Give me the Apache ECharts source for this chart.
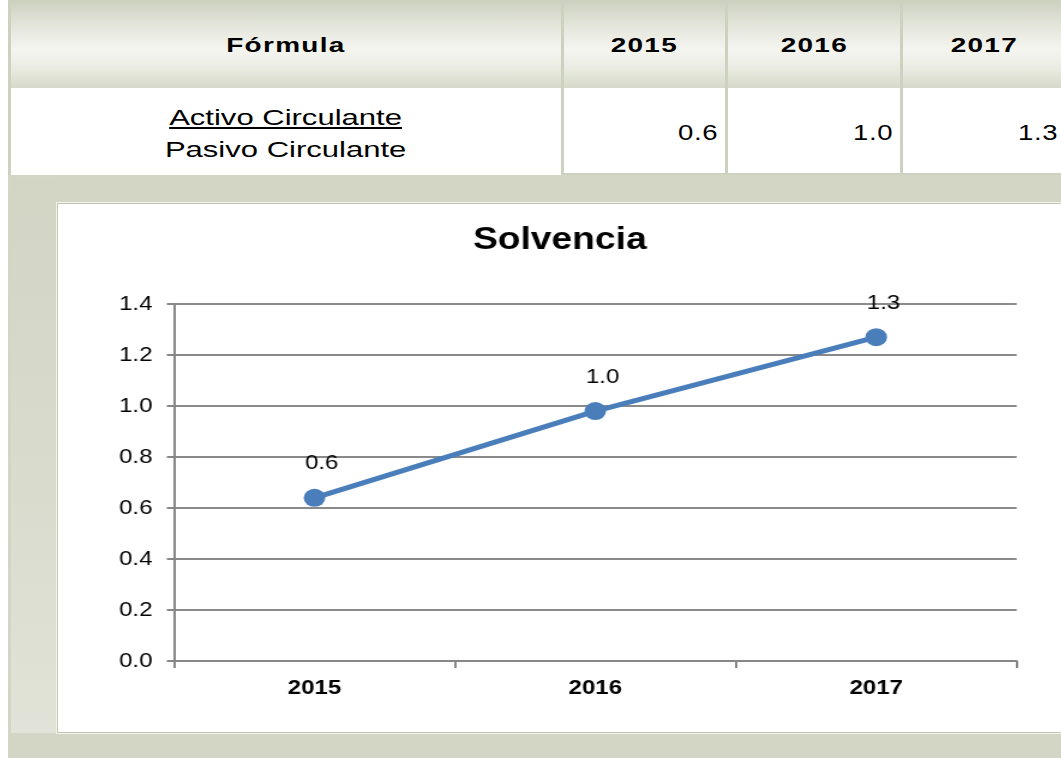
<!DOCTYPE html>
<html>
<head>
<meta charset="utf-8">
<title>Solvencia</title>
<script src="https://cdn.jsdelivr.net/npm/echarts@6/dist/echarts.min.js"></script>
<style>
  html, body { margin: 0; padding: 0; background: #ffffff; }
  body { width: 1061px; height: 758px; position: relative; overflow: hidden;
         font-family: "Liberation Sans", Arial, sans-serif; color: #000; }
  .abs { position: absolute; box-sizing: border-box; }
  .head { background: linear-gradient(to bottom, #cfd3c2 0%, #e4e6dc 28%, #f5f5f0 55%, #e9ebe1 78%, #d5d8c9 100%); }
  .sep { background: #cdd1bf; }
  .htxt { display: flex; align-items: center; justify-content: center; }
  .htxt span { display: inline-block; font-weight: bold; font-size: 21px; letter-spacing: 1px;
               transform: scaleX(1.33); }
  .val { display: flex; align-items: center; justify-content: flex-end; padding-right: 7px; }
  .val span { display: inline-block; font-size: 22px; letter-spacing: 0.5px;
              transform: scaleX(1.25); transform-origin: right center; }
  .frm { display: flex; flex-direction: column; align-items: center; justify-content: center; }
  .frm span { display: inline-block; font-size: 22px; line-height: 32px; transform: scaleX(1.41); }
  #panel { left: 8px; top: 175px; width: 1060px; height: 583px; background: #d3d6c5; }
  #strip { left: 11px; top: 178px; width: 46px; height: 555px;
           background: linear-gradient(to bottom, #d2d5c4 0%, #d9dbcd 55%, #e1e3d8 100%); }
  #box { left: 56px; top: 202px; width: 1010px; height: 532px; background: #ffffff;
         border: 1px solid #f1f2ea; box-shadow: inset 0 0 0 1px #c3c7b3; }
  /* chart canvas is drawn narrower and stretched horizontally */
  #chart { left: 57px; top: 203px; width: 838px; height: 530px;
           transform: scaleX(1.2); transform-origin: 0 0; }
</style>
</head>
<body>
<div id="table"></div>
<div class="abs" id="panel"></div>
<div class="abs" id="strip"></div>
<div class="abs" id="box"></div>
<div class="abs" id="chart"></div>
<script>
// Ratio data: current assets / current liabilities per year
const years = ['2015', '2016', '2017'];
const solvencia = [0.64, 0.98, 1.27];
const yTicks = [0, 0.2, 0.4, 0.6, 0.8, 1.0, 1.2, 1.4];
const formulaTop = 'Activo Circulante';
const formulaBottom = 'Pasivo Circulante';

// ---- summary table above the chart ----
const table = document.getElementById('table');
function cell(cls, left, top, w, h, html) {
  const d = document.createElement('div');
  d.className = 'abs ' + cls;
  d.style.left = left + 'px'; d.style.top = top + 'px';
  d.style.width = w + 'px'; d.style.height = h + 'px';
  if (html !== undefined) d.innerHTML = html;
  table.appendChild(d);
  return d;
}
// column edges
const cols = [11, 564, 728, 903, 1068];
const headTop = 3, headH = 85, rowTop = 88, rowH = 87;
// frame colour behind the cells
cell('sep', 8, 0, 1060, 178);
// header row
cell('head', cols[0], headTop, cols[1] - cols[0] - 3, headH);
cell('htxt', cols[0], headTop + 1, cols[1] - cols[0] - 3, headH - 3, '<span>F\u00f3rmula</span>');
for (let i = 0; i < years.length; i++) {
  const l = cols[i + 1], w = cols[i + 2] - cols[i + 1] - 3;
  cell('head', l, headTop, w, headH);
  cell('htxt', l, headTop + 1, w, headH - 3, '<span>' + years[i] + '</span>');
}
// data row
cell('', cols[0], rowTop, cols[1] - cols[0] - 3, rowH).style.background = '#fff';
cell('frm', cols[0], rowTop + 2, cols[1] - cols[0] - 3, rowH,
  '<span style="text-decoration:underline">' + formulaTop + '</span><span>' + formulaBottom + '</span>');
for (let i = 0; i < years.length; i++) {
  const l = cols[i + 1], w = cols[i + 2] - cols[i + 1] - 3;
  const c = cell('val', l, rowTop, w, rowH - 2, '<span>' + solvencia[i].toFixed(1) + '</span>');
  c.style.background = '#fff';
  c.style.paddingTop = '4px';
}

// ---- line chart ----
const chart = echarts.init(document.getElementById('chart'), null, { renderer: 'canvas' });
const FONT = '"Liberation Sans", Arial, sans-serif';
chart.setOption({
  backgroundColor: 'transparent',
  animation: false,
  title: {
    text: 'Solvencia',
    left: 'center',
    top: 22,
    padding: 0,
    textStyle: { fontFamily: FONT, fontSize: 31, fontWeight: 'bold', color: '#000' }
  },
  grid: { left: 97.5, right: 38.3, top: 101, bottom: 72, containLabel: false },
  xAxis: {
    type: 'category',
    data: years,
    boundaryGap: true,
    axisLine: { show: true, lineStyle: { color: '#878787', width: 2 } },
    axisTick: { show: true, length: 7, inside: false, lineStyle: { color: '#878787', width: 2 } },
    axisLabel: { margin: 17, fontFamily: FONT, fontSize: 20, fontWeight: 'bold', color: '#000' },
    splitLine: { show: false }
  },
  yAxis: {
    type: 'value',
    min: yTicks[0],
    max: yTicks[yTicks.length - 1],
    interval: 0.2,
    axisLine: { show: true, lineStyle: { color: '#878787', width: 2 } },
    axisTick: { show: true, length: 6, lineStyle: { color: '#878787', width: 2 } },
    axisLabel: { margin: 18, fontFamily: FONT, fontSize: 20, color: '#000',
                 formatter: v => v.toFixed(1) },
    splitLine: { show: true, lineStyle: { color: '#8a8a8a', width: 2 } }
  },
  series: [{
    type: 'line',
    data: solvencia,
    lineStyle: { color: '#4a7ebb', width: 5 },
    itemStyle: { color: '#4a7ebb' },
    symbol: 'circle',
    symbolSize: 18,
    showAllSymbol: true,
    label: {
      show: true,
      position: 'top',
      distance: 15,
      offset: [6, 0],
      fontFamily: FONT,
      fontSize: 20,
      color: '#000',
      formatter: p => p.value.toFixed(1)
    }
  }]
});
</script>
</body>
</html>
